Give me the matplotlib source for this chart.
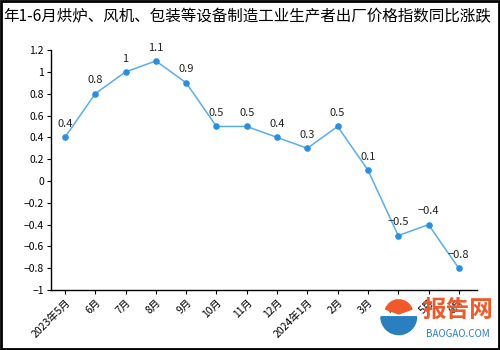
import matplotlib
matplotlib.use("Agg")
import matplotlib.pyplot as plt
from matplotlib.patches import Rectangle, Wedge

plt.rcParams['font.family'] = ['Noto Sans CJK SC', 'DejaVu Sans']
plt.rcParams['axes.unicode_minus'] = True

months = ["2023年5月", "6月", "7月", "8月", "9月", "10月", "11月", "12月",
          "2024年1月", "2月", "3月", "4月", "5月", "6月"]
values = [0.4, 0.8, 1.0, 1.1, 0.9, 0.5, 0.5, 0.4, 0.3, 0.5, 0.1, -0.5, -0.4, -0.8]
yticks = [-1, -0.8, -0.6, -0.4, -0.2, 0, 0.2, 0.4, 0.6, 0.8, 1, 1.2]
title = "年1-6月烘炉、风机、包装等设备制造工业生产者出厂价格指数同比涨跌"


def fmt(v):
    s = f"{v:g}"
    return s.replace("-", "\u2212")


fig = plt.figure(figsize=(5, 3.5), dpi=100)
ax = fig.add_axes([0.102, 0.171, 0.852, 0.686])

x = list(range(len(values)))
ax.plot(x, values, color="#5aaeea", lw=1.1, zorder=2)
ax.scatter(x, values, s=14, color="#2b8fe0", zorder=3)
for xi, v in zip(x, values):
    ax.annotate(fmt(v), (xi, v), xytext=(0, 6), textcoords="offset points",
                ha="center", va="bottom", fontsize=8, color="#222222")

ax.set_xlim(-0.46, 13.6)
ax.set_ylim(-1, 1.2)
ax.set_yticks(yticks)
ax.set_yticklabels([fmt(t) for t in yticks], fontsize=7.5)
ax.set_xticks(x)
ax.set_xticklabels(months, rotation=45, ha="right", rotation_mode="anchor",
                   fontsize=7.5)
ax.tick_params(length=3, width=0.8, color="black", pad=2)
for s in ("top", "right"):
    ax.spines[s].set_visible(False)
for s in ("left", "bottom"):
    ax.spines[s].set_linewidth(1)

fig.text(0.006, 0.952, title, ha="left", va="center", fontsize=11.2,
         color="black")

# site mark in the lower right corner
logo = fig.add_axes([0.76, 0.035, 0.075, 0.12])
logo.set_xlim(-1, 1)
logo.set_ylim(-1, 1)
logo.set_aspect("equal")
logo.axis("off")
logo.add_patch(Wedge((0, 0), 0.95, 180, 360, color="#2a7fc0"))
logo.add_patch(Wedge((0, 0.15), 0.75, 20, 160, color="#f0592a"))
fig.text(0.915, 0.115, "报告网", ha="center", va="center", fontsize=17,
         color="#f0592a", fontweight="bold")
fig.text(0.915, 0.045, "BAOGAO.COM", ha="center", va="center", fontsize=7,
         color="#2a7fc0")

fig.patches.append(Rectangle((0.002, 0.003), 0.996, 0.994,
                             transform=fig.transFigure, fill=False,
                             edgecolor="black", lw=2))

fig.savefig("out.png", dpi=100)
